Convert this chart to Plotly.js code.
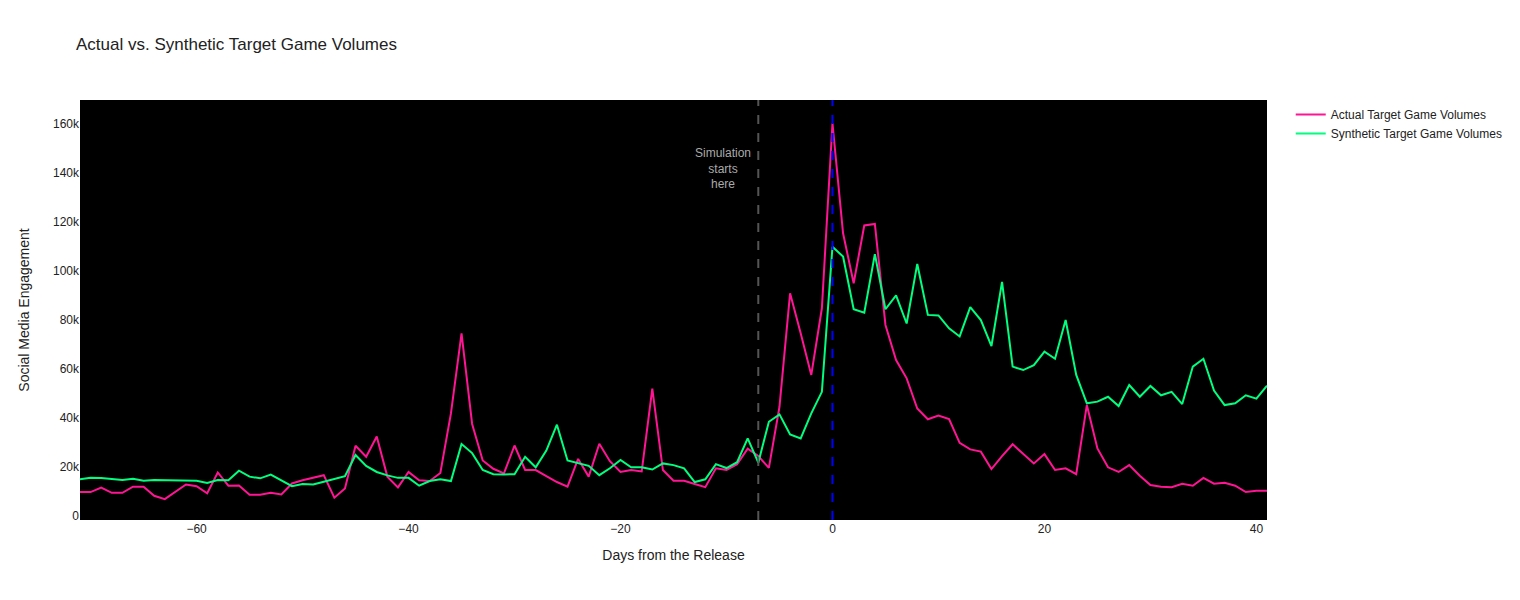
<!DOCTYPE html>
<html>
<head>
<meta charset="utf-8">
<script src="https://cdn.plot.ly/plotly-3.0.1.min.js"></script>
<style>
  body { margin:0; background:#ffffff; }
  #myDiv { width:1520px; height:600px; }
</style>
</head>
<body>
<div id="myDiv"></div>
<script>
// days relative to the release, -71 .. 41
var days = [];
for (let d = -71; d <= 41; d++) days.push(d);

// actual volumes (k)
var actualK = [
  9.8, 9.8, 11.6, 9.5, 9.5, 12.0, 12.0, 8.3, 6.9, 9.9,
  12.9, 12.2, 9.3, 17.8, 12.4, 12.5, 8.7, 8.7, 9.5, 8.8,
  13.3, 14.6, 15.6, 16.7, 7.5, 11.3, 28.7, 24.2, 32.5, 16.1,
  11.7, 18.0, 14.6, 14.3, 17.6, 41.9, 74.6, 37.6, 22.7, 19.3,
  17.4, 28.8, 18.8, 18.8, 16.3, 13.9, 12.0, 23.3, 16.1, 29.5,
  22.4, 18.0, 18.8, 18.2, 52.0, 18.8, 14.4, 14.4, 13.1, 11.8,
  19.5, 18.8, 21.2, 27.5, 24.5, 19.7, 44.6, 90.9, 74.6, 57.6,
  84.8, 160.3, 115.4, 95.0, 118.6, 119.2, 78.0, 63.7, 56.2, 43.9,
  39.5, 41.0, 39.6, 29.9, 27.2, 26.3, 19.2, 24.5, 29.3, 25.3,
  21.5, 25.3, 18.8, 19.5, 17.1, 45.3, 27.6, 19.9, 18.0, 20.8,
  16.5, 12.7, 12.0, 11.8, 13.2, 12.4, 15.6, 13.2, 13.6, 12.4,
  9.8, 10.3, 10.3
];

// synthetic volumes (k)
var syntheticK = [
  15.0, 15.6, 15.5, 15.2, 14.7, 15.2, 14.4, 14.7, 14.7, 14.6,
  14.7, 14.4, 13.5, 14.7, 14.6, 18.5, 16.1, 15.4, 16.9, 14.6,
  12.2, 13.1, 12.9, 14.0, 15.1, 16.3, 24.9, 20.5, 18.0, 16.6,
  15.6, 15.6, 12.4, 14.3, 15.0, 14.3, 29.4, 25.7, 18.8, 17.1,
  17.0, 17.1, 24.2, 19.9, 26.7, 37.3, 22.7, 21.5, 20.5, 16.7,
  19.5, 22.9, 19.9, 19.9, 19.0, 21.5, 20.8, 19.5, 13.9, 15.0,
  21.2, 19.6, 22.0, 31.7, 21.8, 38.5, 41.5, 33.3, 31.7, 41.9,
  50.7, 109.9, 105.9, 84.4, 83.0, 106.9, 84.4, 90.1, 78.6, 102.9,
  82.1, 81.9, 76.6, 73.3, 85.3, 80.0, 69.4, 95.6, 61.0, 59.6,
  61.6, 67.1, 64.2, 80.0, 57.6, 46.0, 46.7, 48.7, 44.9, 53.5,
  48.7, 53.1, 49.3, 50.7, 45.7, 61.0, 64.2, 51.2, 45.3, 46.0,
  49.3, 47.9, 53.2
];

var simStartDay = -7;
var releaseDay = 0;

var actual = actualK.map(v => v * 1000);
var synthetic = syntheticK.map(v => v * 1000);

var traceActual = {
  x: days, y: actual,
  mode: 'lines', type: 'scatter',
  name: 'Actual Target Game Volumes',
  line: { color: '#FF1493', width: 2 }
};
var traceSynth = {
  x: days, y: synthetic,
  mode: 'lines', type: 'scatter',
  name: 'Synthetic Target Game Volumes',
  line: { color: '#00FF7F', width: 2 }
};

var layout = {
  width: 1520,
  height: 600,
  font: { family: 'Arial, "Liberation Sans", sans-serif', color: '#222222', size: 12 },
  paper_bgcolor: '#ffffff',
  plot_bgcolor: '#000000',
  title: { text: 'Actual vs. Synthetic Target Game Volumes', x: 0.05, xanchor: 'left',
           font: { size: 17 } },
  margin: { l: 80, r: 80, t: 100, b: 80 },
  xaxis: {
    title: { text: 'Days from the Release', font: { size: 14 }, standoff: 15 },
    range: [-71, 41],
    dtick: 20,
    showgrid: false,
    zeroline: false
  },
  yaxis: {
    title: { text: 'Social Media Engagement', font: { size: 14 }, standoff: 20 },
    range: [-1600, 169800],
    dtick: 20000,
    showgrid: false,
    zeroline: false
  },
  shapes: [
    { type: 'line', xref: 'x', yref: 'paper', x0: simStartDay, x1: simStartDay, y0: 0, y1: 1,
      line: { color: '#555555', width: 2, dash: 'dash' } },
    { type: 'line', xref: 'x', yref: 'paper', x0: releaseDay, x1: releaseDay, y0: 0, y1: 1,
      line: { color: '#0000FF', width: 2, dash: 'dash' } }
  ],
  annotations: [
    { text: 'Simulation<br>starts<br>here', x: simStartDay, xref: 'x', xanchor: 'right', xshift: -5,
      y: 142000, yref: 'y', yanchor: 'middle', showarrow: false, align: 'center',
      font: { color: '#AAAAAA', size: 12 } }
  ]
};

var config = { displayModeBar: false };

Plotly.newPlot('myDiv', [traceActual, traceSynth], layout, config);
</script>
</body>
</html>
